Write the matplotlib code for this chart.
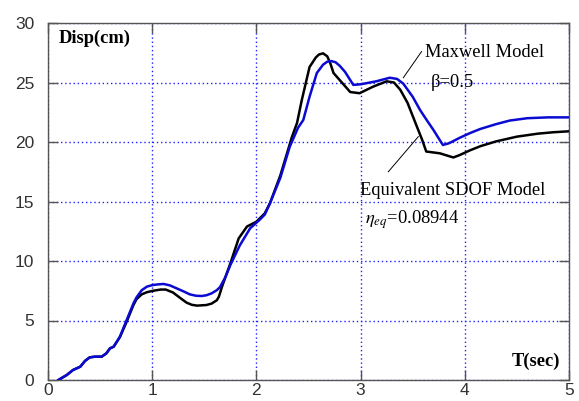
import numpy as np
import matplotlib
matplotlib.use("Agg")
import matplotlib.pyplot as plt

# Maxwell model (blue) response
maxwell_t = [0.10, 0.18, 0.24, 0.31, 0.355, 0.40, 0.45, 0.515, 0.56, 0.595, 0.63,
             0.69, 0.755, 0.82, 0.85, 0.90, 0.95, 1.00, 1.05, 1.11, 1.17, 1.235,
             1.30, 1.36, 1.42, 1.475, 1.52, 1.57, 1.62, 1.65, 1.70, 1.75, 1.84,
             1.94, 2.03, 2.08, 2.13, 2.23, 2.32, 2.40, 2.45, 2.51, 2.58, 2.64,
             2.68, 2.72, 2.76, 2.80, 2.85, 2.93, 3.00, 3.06, 3.15, 3.28, 3.35,
             3.41, 3.50, 3.57, 3.63, 3.70, 3.75, 3.79, 3.85, 3.95, 4.05, 4.15,
             4.30, 4.43, 4.60, 4.80, 5.00]
maxwell_d = [0.0, 0.42, 0.84, 1.12, 1.6, 1.9, 1.96, 1.96, 2.24, 2.66, 2.8,
             3.64, 5.04, 6.44, 6.95, 7.55, 7.85, 7.97, 8.03, 8.07, 7.95, 7.7,
             7.45, 7.2, 7.08, 7.06, 7.12, 7.28, 7.55, 7.8, 8.6, 9.66, 11.3,
             12.75, 13.45, 13.9, 14.85, 17.0, 19.6, 21.2, 21.85, 23.8, 25.8, 26.5,
             26.75, 26.8, 26.7, 26.4, 25.9, 24.8, 24.85, 24.95, 25.1, 25.4, 25.3,
             24.9, 23.8, 22.7, 21.9, 21.0, 20.3, 19.75, 19.9, 20.35, 20.75, 21.1,
             21.5, 21.8, 22.0, 22.07, 22.07]

# Equivalent SDOF model (black)
sdof_t = [0.10, 0.18, 0.24, 0.31, 0.355, 0.40, 0.45, 0.515, 0.56, 0.595, 0.63,
          0.69, 0.755, 0.82, 0.85, 0.90, 0.95, 1.01, 1.08, 1.13, 1.20, 1.26,
          1.33, 1.38, 1.43, 1.52, 1.57, 1.62, 1.64, 1.67, 1.75, 1.83, 1.91,
          2.00, 2.08, 2.13, 2.23, 2.34, 2.39, 2.435, 2.51, 2.57, 2.60, 2.64,
          2.68, 2.71, 2.74, 2.83, 2.90, 2.99, 3.12, 3.25, 3.32, 3.38, 3.45,
          3.54, 3.59, 3.63, 3.76, 3.89, 3.95, 4.05, 4.15, 4.30, 4.50, 4.70,
          4.85, 5.00]
sdof_d = [0.0, 0.42, 0.84, 1.12, 1.6, 1.9, 1.96, 1.96, 2.24, 2.66, 2.8,
          3.6, 4.9, 6.3, 6.8, 7.2, 7.38, 7.5, 7.6, 7.6, 7.35, 6.95,
          6.5, 6.32, 6.25, 6.3, 6.42, 6.7, 7.0, 7.84, 9.8, 11.9, 12.9,
          13.3, 14.0, 14.85, 17.2, 20.4, 21.6, 23.5, 26.3, 27.1, 27.35, 27.45,
          27.2, 26.6, 25.8, 24.9, 24.2, 24.1, 24.65, 25.1, 25.0, 24.4, 23.3,
          21.3, 20.2, 19.2, 19.05, 18.7, 18.9, 19.3, 19.65, 20.05, 20.45, 20.7,
          20.82, 20.9]

x_ticks = [0, 1, 2, 3, 4, 5]
y_ticks = [0, 5, 10, 15, 20, 25, 30]

plt.rcParams["mathtext.fontset"] = "stix"
serif = "Liberation Serif"

fig = plt.figure(figsize=(5.79, 4.01), dpi=100)
ax = fig.add_axes([48 / 579, 21 / 401, 521 / 579, 357 / 401])

ax.plot(sdof_t, sdof_d, color="black", lw=1.8, zorder=3)
ax.plot(maxwell_t, maxwell_d, color="#0a0ad2", lw=1.8, zorder=4)

ax.set_xlim(0, 5)
ax.set_ylim(0, 30)
ax.set_xticks(x_ticks)
ax.set_yticks(y_ticks)
ax.grid(True, color="#2020ff", linestyle=(0, (1, 2)), lw=1.0)
ax.tick_params(direction="in", length=7, width=1, color="#555555",
               top=True, right=True, labelsize=12.5, labelcolor="#333333")
ax.tick_params(axis="x", pad=2)
ax.tick_params(axis="y", pad=10)
for lab in ax.get_xticklabels() + ax.get_yticklabels():
    lab.set_family("Liberation Sans")
for sp in ax.spines.values():
    sp.set_color("#555555")
    sp.set_linewidth(1.0)

ax.text(0.105, 28.7, "Disp(cm)", family=serif, weight="bold", fontsize=13.3,
        ha="left", va="center")
ax.text(4.45, 1.6, "T(sec)", family=serif, weight="bold", fontsize=13.3,
        ha="left", va="center")
ax.text(3.62, 27.5, "Maxwell Model", family=serif, fontsize=13.3,
        ha="left", va="center")
ax.text(3.67, 25.0, "\u03b2=0.5", family=serif, fontsize=13.3,
        ha="left", va="center")
ax.text(2.99, 15.9, "Equivalent SDOF Model", family=serif, fontsize=13.3,
        ha="left", va="center")
ax.text(3.04, 13.5, r"$\eta_{eq}$=0.08944", family=serif, fontsize=13.3,
        ha="left", va="center")

# leader lines
ax.plot([3.585, 3.41], [27.6, 25.4], color="black", lw=0.7, zorder=5)
ax.plot([3.554, 3.266], [20.45, 17.5], color="black", lw=0.7, zorder=5)

fig.savefig("out.png", dpi=100)
